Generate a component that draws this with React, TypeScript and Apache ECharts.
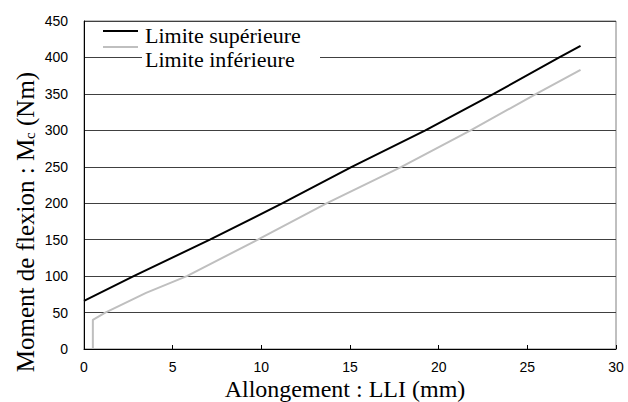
import React, { useEffect, useRef } from "react";
import * as echarts from "echarts";

const upperX = [0, 2.8, 7.1, 11.2, 15.1, 19.25, 23.1, 26.8, 28];
const upperY = [66, 100, 150, 200, 250, 300, 350, 400, 416];
const lowerX = [0.5, 0.5, 1.2, 3.5, 5.8, 9.8, 13.7, 17.9, 21.8, 25.5, 28];
const lowerY = [0, 40, 50, 77, 100, 150, 200, 250, 300, 350, 383];
const seriesNames = ["Limite supérieure", "Limite inférieure"];
const xTitle = "Allongement : LLI (mm)";
const yTitle = "Moment de flexion : M{sub|c} (Nm)";

const SERIF = "'Liberation Serif', 'Times New Roman', Times, serif";
const SANS = "'Liberation Sans', Arial, sans-serif";

export default function App() {
  const ref = useRef<HTMLDivElement>(null);
  useEffect(() => {
    if (!ref.current) return;
    const chart = echarts.init(ref.current, null, { renderer: "svg" });
    const zip = (xs: number[], ys: number[]) => xs.map((x, i) => [x, ys[i]]);
    chart.setOption({
      animation: false,
      backgroundColor: "#fff",
      grid: {
        left: 84,
        right: 12,
        top: 21,
        bottom: 53,
        show: true,
        borderColor: "#808080",
        borderWidth: 1,
        backgroundColor: "transparent",
      },
      xAxis: {
        type: "value",
        min: 0,
        max: 30,
        interval: 5,
        axisLine: { lineStyle: { color: "#000", width: 1 } },
        axisTick: { show: true, inside: true, length: 4, lineStyle: { color: "#000" } },
        axisLabel: { color: "#000", fontFamily: SANS, fontSize: 14, margin: 11, lineHeight: 14 },
        splitLine: { show: false },
      },
      yAxis: {
        type: "value",
        min: 0,
        max: 450,
        interval: 50,
        axisLine: { show: true, lineStyle: { color: "#000", width: 1 } },
        axisTick: { show: false },
        axisLabel: { color: "#000", fontFamily: SANS, fontSize: 14, margin: 16 },
        splitLine: { show: true, lineStyle: { color: "#404040", width: 1 } },
      },
      series: [
        {
          name: seriesNames[0],
          type: "line",
          data: zip(upperX, upperY),
          showSymbol: false,
          lineStyle: { color: "#000", width: 2 },
          z: 3,
        },
        {
          name: seriesNames[1],
          type: "line",
          data: zip(lowerX, lowerY),
          showSymbol: false,
          lineStyle: { color: "#bfbfbf", width: 2 },
          z: 2,
        },
      ],
      graphic: [
        {
          type: "rect",
          shape: { x: 142, y: 23, width: 178, height: 42 },
          style: { fill: "#fff" },
          z: 10,
        },
        {
          type: "line",
          shape: { x1: 103, y1: 31, x2: 138, y2: 31 },
          style: { stroke: "#000", lineWidth: 2 },
          z: 11,
        },
        {
          type: "line",
          shape: { x1: 103, y1: 47, x2: 138, y2: 47 },
          style: { stroke: "#bfbfbf", lineWidth: 2 },
          z: 11,
        },
        {
          type: "text",
          x: 145,
          y: 35,
          style: {
            text: seriesNames[0],
            fill: "#000",
            fontFamily: SERIF,
            fontSize: 22,
            verticalAlign: "middle",
          },
          z: 11,
        },
        {
          type: "text",
          x: 145,
          y: 59,
          style: {
            text: seriesNames[1],
            fill: "#000",
            fontFamily: SERIF,
            fontSize: 22,
            verticalAlign: "middle",
          },
          z: 11,
        },
        {
          type: "text",
          x: 345,
          y: 389,
          style: {
            text: xTitle,
            fill: "#000",
            fontFamily: SERIF,
            fontSize: 24,
            lineHeight: 22,
            align: "center",
            verticalAlign: "middle",
          },
          z: 11,
        },
        {
          type: "text",
          x: 25,
          y: 222,
          rotation: Math.PI / 2,
          style: {
            text: yTitle,
            fill: "#000",
            fontFamily: SERIF,
            fontSize: 25,
            align: "center",
            verticalAlign: "middle",
            rich: {
              sub: {
                fontFamily: SERIF,
                fontSize: 15,
                fill: "#000",
                verticalAlign: "bottom",
                padding: [10, 0, 0, 0],
              },
            },
          },
          z: 11,
        },
      ],
    });
    return () => chart.dispose();
  }, []);
  return (
    <div
      ref={ref}
      style={{ position: "fixed", left: 0, top: 0, width: 628, height: 402 }}
    />
  );
}
